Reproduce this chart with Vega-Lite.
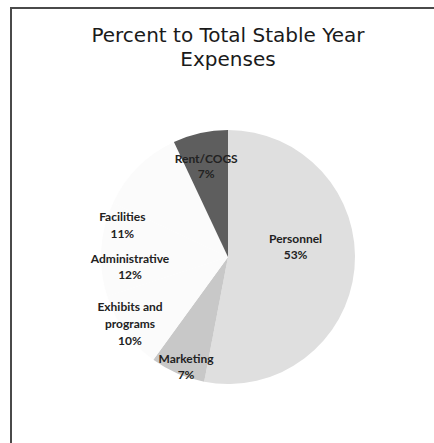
{
  "$schema": "https://vega.github.io/schema/vega-lite/v6.json",
  "width": 434,
  "height": 498,
  "autosize": {"type": "none"},
  "padding": {"left": 11, "top": 8, "right": 0, "bottom": 0},
  "background": "white",
  "view": {"stroke": "#4a4a4a", "strokeWidth": 2},
  "title": {
    "text": ["Percent to Total Stable Year", "Expenses"],
    "anchor": "middle",
    "baseline": "top",
    "offset": -62,
    "font": "DejaVu Sans",
    "fontSize": 20,
    "fontWeight": "normal",
    "color": "#1a1a1a",
    "lineHeight": 24
  },
  "config": {
    "text": {"lineBreak": "\n"}
  },
  "data": {
    "values": [
      {"category": "Personnel", "value": 53, "rank": 1, "label": "Personnel\n53%"},
      {"category": "Marketing", "value": 7, "rank": 2, "label": "Marketing\n7%"},
      {"category": "Exhibits and programs", "value": 10, "rank": 3, "label": "Exhibits and\nprograms\n10%"},
      {"category": "Administrative", "value": 12, "rank": 4, "label": "Administrative\n12%"},
      {"category": "Facilities", "value": 11, "rank": 5, "label": "Facilities\n11%"},
      {"category": "Rent/COGS", "value": 7, "rank": 6, "label": "Rent/COGS\n7%"}
    ]
  },
  "encoding": {
    "theta": {"field": "value", "type": "quantitative", "stack": true},
    "order": {"field": "rank", "type": "quantitative"}
  },
  "layer": [
    {
      "mark": {"type": "arc", "outerRadius": 127, "stroke": null},
      "encoding": {
        "color": {
          "field": "category",
          "type": "nominal",
          "scale": {
            "domain": ["Personnel", "Marketing", "Exhibits and programs", "Administrative", "Facilities", "Rent/COGS"],
            "range": ["#dfdfdf", "#c8c8c8", "#fbfbfb", "#fbfbfb", "#fbfbfb", "#5e5e5e"]
          },
          "legend": null
        }
      }
    },
    {
      "mark": {"type": "text", "radius": 70, "thetaOffset": -0.36, "font": "Lato", "fontSize": 12, "fontWeight": "bold", "color": "#222222", "lineHeight": 16, "baseline": "middle", "align": "center"},
      "encoding": {"text": {"condition": {"test": "datum.category === 'Personnel'", "field": "label"}, "value": ""}}
    },
    {
      "mark": {"type": "text", "radius": 110, "thetaOffset": -0.017, "font": "Lato", "fontSize": 12, "fontWeight": "bold", "color": "#222222", "lineHeight": 16, "baseline": "middle", "align": "center"},
      "encoding": {"text": {"condition": {"test": "datum.category === 'Marketing'", "field": "label"}, "value": ""}}
    },
    {
      "mark": {"type": "text", "radius": 110, "thetaOffset": 0.157, "font": "Lato", "fontSize": 12, "fontWeight": "bold", "color": "#222222", "lineHeight": 17, "baseline": "middle", "align": "center"},
      "encoding": {"text": {"condition": {"test": "datum.category === 'Exhibits and programs'", "field": "label"}, "value": ""}}
    },
    {
      "mark": {"type": "text", "radius": 98, "thetaOffset": -0.084, "font": "Lato", "fontSize": 12, "fontWeight": "bold", "color": "#222222", "lineHeight": 16, "baseline": "middle", "align": "center"},
      "encoding": {"text": {"condition": {"test": "datum.category === 'Administrative'", "field": "label"}, "value": ""}}
    },
    {
      "mark": {"type": "text", "radius": 113, "thetaOffset": -0.424, "font": "Lato", "fontSize": 12, "fontWeight": "bold", "color": "#222222", "lineHeight": 17, "baseline": "middle", "align": "center"},
      "encoding": {"text": {"condition": {"test": "datum.category === 'Facilities'", "field": "label"}, "value": ""}}
    },
    {
      "mark": {"type": "text", "radius": 100, "thetaOffset": 0.0, "font": "Lato", "fontSize": 12, "fontWeight": "bold", "color": "#222222", "lineHeight": 15, "baseline": "middle", "align": "center"},
      "encoding": {"text": {"condition": {"test": "datum.category === 'Rent/COGS'", "field": "label"}, "value": ""}}
    }
  ]
}
